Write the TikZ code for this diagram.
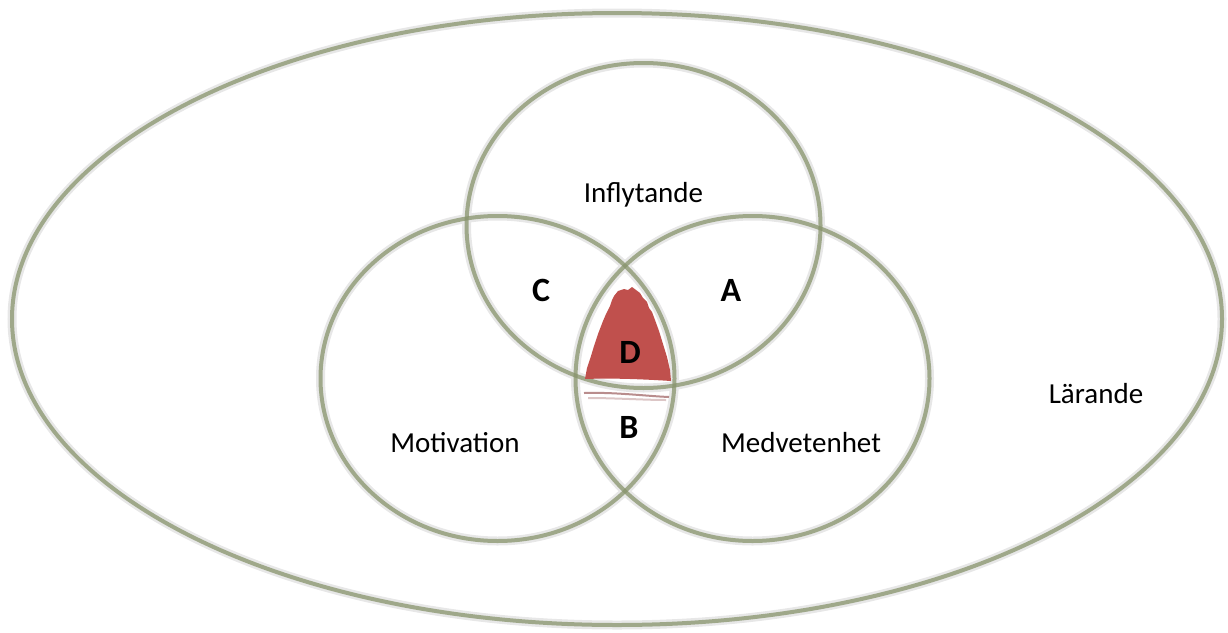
\documentclass[tikz,border=0pt]{standalone}
\usepackage{fontspec}
\setmainfont{Carlito}
\definecolor{ringgray}{RGB}{231,231,231}
\definecolor{ringgreen}{RGB}{135,147,108}
\definecolor{dred}{RGB}{192,80,77}
\definecolor{smear}{RGB}{168,112,112}

\begin{document}
\begin{tikzpicture}[x=1pt,y=-1pt,
    band/.style={draw=ringgray,line width=9pt},
    shade/.style={draw=ringgreen,draw opacity=0.75,line width=4pt},
    lbl/.style={font=\fontsize{29}{34}\selectfont,anchor=base},
    zone/.style={font=\fontsize{34}{40}\selectfont\bfseries,anchor=base}]
  \useasboundingbox (0,0) rectangle (1228,632);
  \coordinate (lar) at (617,319);
  \coordinate (inf) at (643.5,225.5);
  \coordinate (mot) at (497.5,378.5);
  \coordinate (med) at (752.5,378.5);
  % light bands
  \path[band] (lar) ellipse [x radius=605pt, y radius=306pt];
  \foreach \c in {inf,mot,med}
    \path[band] (\c) ellipse [x radius=177pt, y radius=162.5pt];
  % olive edge lines
  \begin{scope}[shift={(4.5,6.5)}]
    \path[shade] (lar) ellipse [x radius=605pt, y radius=306pt];
    \foreach \c in {inf,mot,med}
      \path[shade] (\c) ellipse [x radius=177pt, y radius=162.5pt];
  \end{scope}
  % the common part
  \fill[dred] (614,296) -- (618,291) -- (624,289) -- (628,290) -- (632,287) -- (636,290)
    -- (640,293) -- (643,298) -- (647,302) -- (649,308) -- (652,312)
    -- (655,320) -- (659,331) -- (663,344) -- (667,357) -- (670,370) -- (671,381)
    .. controls (640,379) and (610,378) .. (585,379)
    -- (587,368) -- (591,356) -- (594,346) -- (598,334) -- (603,321)
    -- (606,314) -- (610,306) -- (612,300) -- cycle;
  \draw[smear,line width=2pt,opacity=0.8] (584,393) .. controls (615,392) and (645,396) .. (669,397);
  \draw[smear!40,line width=2pt] (588,398) .. controls (615,398) and (645,400) .. (666,400);
  % texts
  \node[lbl] (inflytande) at (643.5,202) {Inflytande};
  \node[lbl] (motivation) at (455,452) {Motivation};
  \node[lbl] (medvetenhet) at (801,452) {Medvetenhet};
  \node[lbl] (larande) at (1096,403) {Lärande};
  \node[zone] (zc) at (541,301) {C};
  \node[zone] (za) at (731,301) {A};
  \node[zone] (zd) at (630,363) {D};
  \node[zone] (zb) at (629,438) {B};
\end{tikzpicture}
\end{document}
